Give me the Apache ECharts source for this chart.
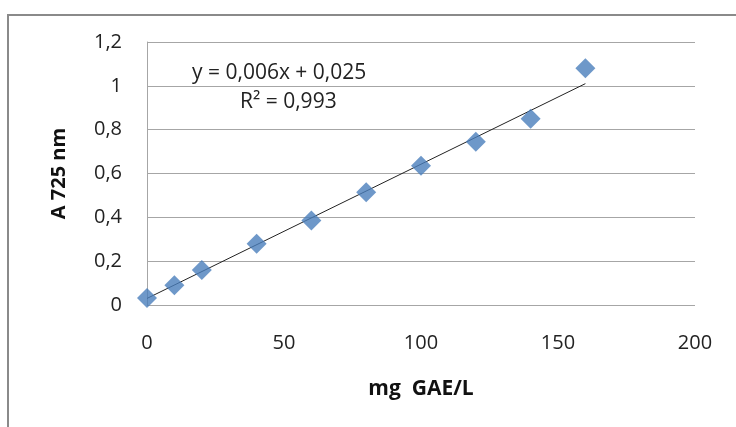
<!DOCTYPE html>
<html><head><meta charset="utf-8">
<script src="https://cdn.jsdelivr.net/npm/echarts@6/dist/echarts.min.js"></script>
<style>html,body{margin:0;padding:0;background:#fff}#c{width:736px;height:427px}</style>
</head><body><div id="c"></div>
<script>
var xValues = [0, 10, 20, 40, 60, 80, 100, 120, 140, 160];
var absorbance = [0.032, 0.09, 0.16, 0.28, 0.385, 0.515, 0.635, 0.745, 0.85, 1.08];
var trendX = [0, 160];
var trendY = [0.03, 1.01];
var equationText = 'y = 0,006x + 0,025';
var r2Text = 'R² = 0,993';
var xTitle = 'mg  GAE/L';
var yTitle = 'A 725 nm';

var FONT = '"Open Sans", "Noto Sans", sans-serif';
var chart = echarts.init(document.getElementById('c'));
chart.setOption({
  animation: false,
  grid: {left: 147, right: 41, top: 42, bottom: 122},
  graphic: [
    {type: 'rect', shape: {x: 8, y: 15, width: 800, height: 500}, style: {fill: 'none', stroke: '#8a8a8a', lineWidth: 2}, z: -1},
    {type: 'text', left: 192, top: 63, style: {text: equationText, font: '21px ' + FONT, fill: '#222'}},
    {type: 'text', left: 240, top: 92, style: {text: r2Text, font: '21px ' + FONT, fill: '#222'}}
  ],
  xAxis: {
    type: 'value', min: 0, max: 200, interval: 50,
    name: xTitle, nameLocation: 'middle', nameGap: 74,
    nameTextStyle: {fontFamily: FONT, fontWeight: 'bold', fontSize: 21, color: '#111'},
    axisLine: {show: false}, axisTick: {show: false}, splitLine: {show: false},
    axisLabel: {margin: 28, fontFamily: FONT, fontSize: 20, color: '#222'}
  },
  yAxis: {
    type: 'value', min: 0, max: 1.2, interval: 0.2,
    name: yTitle, nameLocation: 'middle', nameGap: 78, nameRotate: 90,
    nameTextStyle: {fontFamily: FONT, fontWeight: 'bold', fontSize: 20, color: '#111'},
    axisLine: {show: true, lineStyle: {color: '#a6a6a6', width: 1}}, axisTick: {show: false},
    splitLine: {show: true, lineStyle: {color: '#a6a6a6', width: 1}},
    axisLabel: {margin: 25, fontFamily: FONT, fontSize: 20, color: '#222',
      formatter: function (v) { return String(Math.round(v * 10) / 10).replace('.', ','); }}
  },
  series: [
    {type: 'line', data: trendX.map(function (x, i) { return [x, trendY[i]]; }),
     symbol: 'none', lineStyle: {color: '#222', width: 1}, z: 1},
    {type: 'scatter', data: xValues.map(function (x, i) { return [x, absorbance[i]]; }),
     symbol: 'diamond', symbolSize: [20, 20], itemStyle: {color: '#4a7ebb'}, z: 2}
  ]
});
</script></body></html>
